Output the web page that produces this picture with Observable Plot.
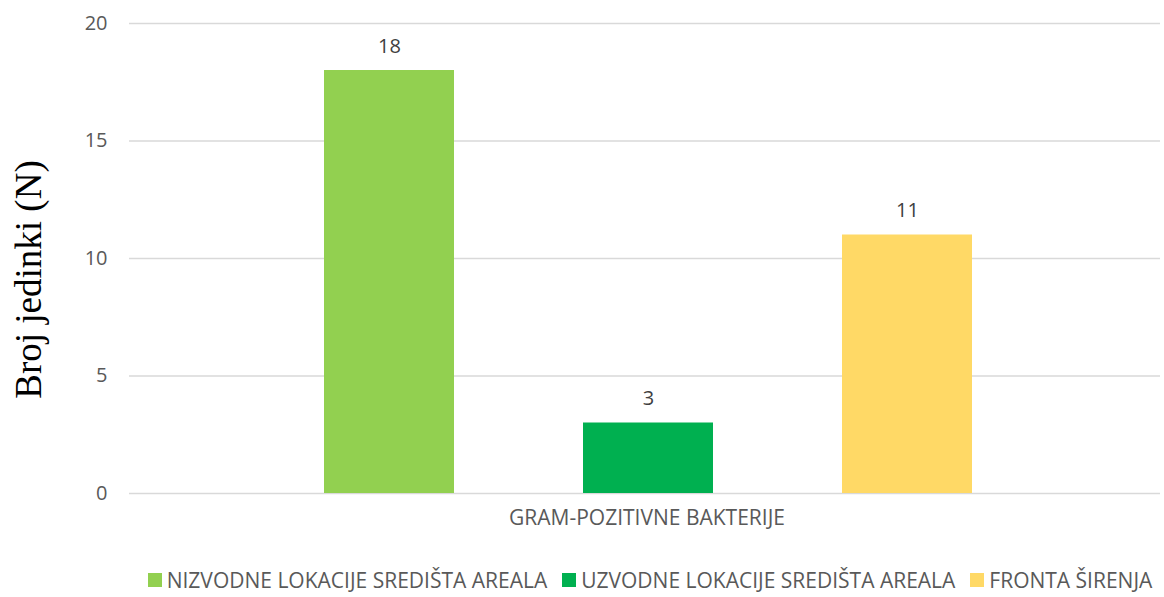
<!DOCTYPE html>
<html>
<head>
<meta charset="utf-8">
<script src="https://cdn.jsdelivr.net/npm/d3@7"></script>
<script src="https://cdn.jsdelivr.net/npm/@observablehq/plot@0.6"></script>
<style>
  html, body { margin: 0; padding: 0; background: #fff; }
  body { width: 1164px; height: 597px; overflow: hidden; font-family: "Open Sans", sans-serif; }
  #legend { display: flex; justify-content: center; align-items: center; gap: 15px; margin-left: 136px; margin-top: 21px;
            font-size: 21px; color: #595959; white-space: nowrap; }
  #legend .item { display: flex; align-items: center; gap: 5px; }
  #legend .sw { width: 14px; height: 14px; display: inline-block; }
</style>
</head>
<body>
<div id="chart"></div>
<div id="legend"></div>
<script>
const category = "GRAM-POZITIVNE BAKTERIJE";
const series = ["NIZVODNE LOKACIJE SREDIŠTA AREALA", "UZVODNE LOKACIJE SREDIŠTA AREALA", "FRONTA ŠIRENJA"];
const values = [18, 3, 11];
const colors = ["#92D050", "#00B050", "#FFD966"];
const yTicks = [0, 5, 10, 15, 20];
const yTitle = "Broj jedinki (N)";

const data = series.map((s, i) => ({series: s, value: values[i]}));

const chart = Plot.plot({
  width: 1164,
  height: 545,
  marginLeft: 129,
  marginRight: 4,
  marginTop: 23,
  marginBottom: 52,
  style: {fontFamily: "'Open Sans', sans-serif", fontSize: "20px", color: "#595959", background: "#fff"},
  x: {domain: series, range: [323, 972], paddingInner: 0.5, paddingOuter: 0, axis: null},
  y: {domain: [0, 20], ticks: yTicks},
  color: {domain: series, range: colors},
  marks: [
    Plot.ruleY(yTicks, {stroke: "#d9d9d9", strokeWidth: 1.5}),
    Plot.axisY({ticks: yTicks, tickSize: 0, tickPadding: 22, label: null, fontSize: 20, fill: "#595959"}),
    Plot.barY(data, {x: "series", y: "value", fill: "series"}),
    Plot.text(data, {x: "series", y: "value", text: d => String(d.value), dy: -24, fontSize: 20, fill: "#404040"}),
    Plot.text([category], {frameAnchor: "bottom", dx: 2, dy: 31, fontSize: 21, fill: "#595959"}),
    Plot.text([yTitle], {frameAnchor: "left", textAnchor: "middle", rotate: -90, dx: -100, dy: 21, fontSize: 37, fill: "#000",
      fontFamily: "'Liberation Serif', 'Times New Roman', serif"})
  ]
});
document.getElementById("chart").appendChild(chart);

const legend = document.getElementById("legend");
series.forEach((s, i) => {
  const item = document.createElement("div");
  item.className = "item";
  const sw = document.createElement("span");
  sw.className = "sw";
  sw.style.background = colors[i];
  const t = document.createElement("span");
  t.textContent = s;
  item.appendChild(sw);
  item.appendChild(t);
  legend.appendChild(item);
});
</script>
</body>
</html>
